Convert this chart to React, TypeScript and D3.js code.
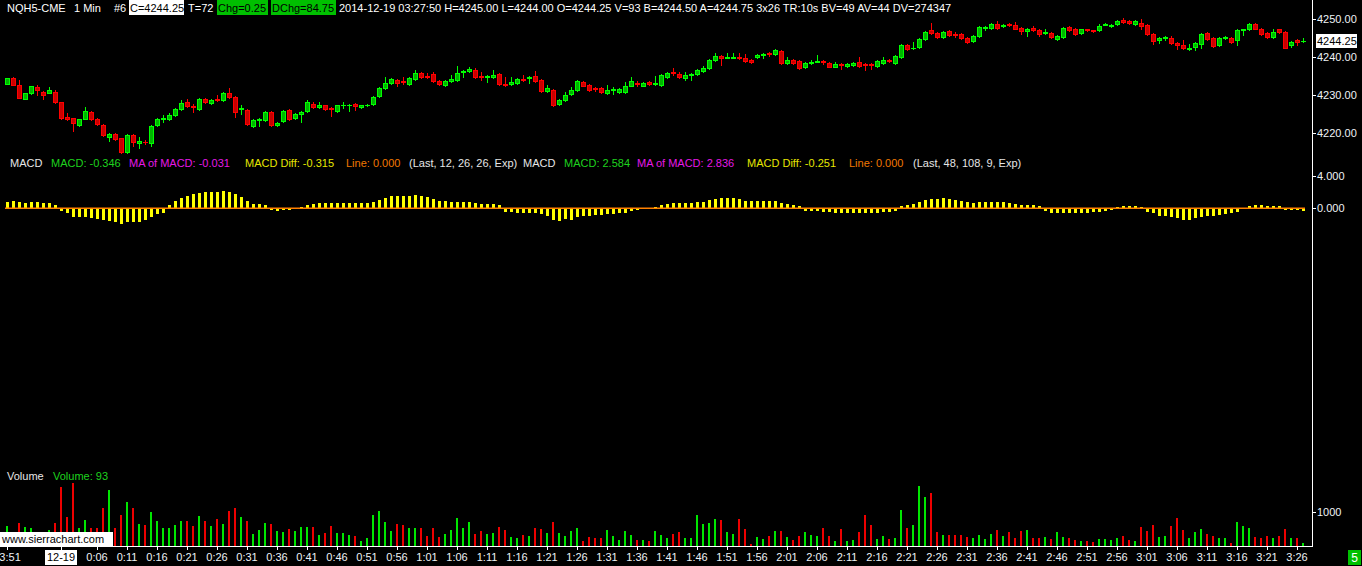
import * as React from 'react';
import * as d3 from 'd3';

// NQH5-CME, 1 minute bars from 2014-12-18 23:51 to 2014-12-19 03:27
const opens = [
  4233, 4234.5, 4232.75, 4229, 4230.5, 4232, 4230.75, 4230.5, 4230.75, 4228.25,
  4224.25, 4224, 4222, 4223.75, 4225.5, 4223.75, 4222, 4219, 4219.75, 4218.75,
  4215, 4219.5, 4217.25, 4217.75, 4217.25, 4222, 4223.75, 4223.75, 4224.75, 4226.25,
  4228.25, 4227, 4226.25, 4229, 4228, 4229, 4228.75, 4230.5, 4229.5, 4226.25,
  4226, 4221.75, 4223.5, 4223.5, 4225.5, 4222, 4223.25, 4226, 4224, 4225,
  4225.75, 4227.75, 4226.75, 4227.25, 4226.5, 4225.75, 4227.25, 4227.5, 4227.75, 4226.75,
  4227.25, 4227.75, 4229.75, 4231.75, 4233.25, 4234, 4233.75, 4233, 4234.25, 4235.75,
  4235, 4235.5, 4233.75, 4232.75, 4233.75, 4234, 4236, 4236.25, 4236.5, 4235,
  4234.75, 4234.75, 4235.5, 4233, 4233, 4233.25, 4234.25, 4234.5, 4235, 4234,
  4231, 4231.25, 4227.75, 4228.75, 4230.25, 4231.25, 4233.5, 4232.75, 4231.75, 4231.75,
  4230.5, 4231.25, 4230.75, 4230.75, 4232.5, 4233.25, 4232.5, 4233.5, 4233, 4232.75,
  4234.75, 4236, 4235.5, 4234.5, 4235.25, 4235.5, 4236.25, 4237, 4239.25, 4240.25,
  4239.75, 4239.75, 4240, 4239.75, 4239.25, 4240, 4240.5, 4241, 4240.75, 4241.5,
  4238.5, 4239.25, 4239, 4237.25, 4238.5, 4238.75, 4239, 4238.5, 4237.5, 4238.25,
  4237.75, 4238, 4238.75, 4238.25, 4238.25, 4237.75, 4238.5, 4239.25, 4238.5, 4240,
  4243.25, 4242.25, 4242.75, 4244.75, 4247, 4246.25, 4245.25, 4246.75, 4246, 4246,
  4245, 4244.25, 4245.5, 4247.75, 4247.75, 4248.75, 4248.25, 4248.75, 4248.5, 4247.75,
  4246.75, 4247.75, 4247, 4246.25, 4246.25, 4244.75, 4245.25, 4248, 4247.5, 4246.25,
  4247.25, 4247, 4247, 4248.5, 4248.25, 4248.75, 4249.75, 4249.5, 4248.75, 4249,
  4248.5, 4246, 4244.5, 4245, 4245, 4243.75, 4243.25, 4242, 4242.75, 4243.5,
  4246.25, 4245, 4243.25, 4245, 4245, 4244.5, 4247, 4247.25, 4248.75, 4247.5,
  4246.25, 4245.25, 4247.25, 4246.5, 4243.25, 4244.5, 4244.25
];

const highs = [
  4234.5, 4234.75, 4234, 4230.5, 4232.5, 4232.75, 4231, 4232, 4231.25, 4228.25,
  4225.25, 4224, 4223.75, 4226.75, 4225.75, 4224, 4222.25, 4220, 4220, 4218.75,
  4219.75, 4219.75, 4219, 4218.25, 4222, 4224, 4224.75, 4225.25, 4226.5, 4228.75,
  4229, 4227.75, 4229.25, 4229.25, 4229, 4230, 4230.75, 4231.75, 4229.75, 4227.25,
  4226.25, 4223.75, 4224, 4225.75, 4225.75, 4223, 4226, 4226.25, 4225.25, 4225.75,
  4228.75, 4228.25, 4228.25, 4227.5, 4226.75, 4227.5, 4228.25, 4227.75, 4228, 4227.5,
  4227.75, 4229.75, 4232, 4234.75, 4234.5, 4234.25, 4234.75, 4234.75, 4236.5, 4236,
  4235.75, 4236, 4234, 4234, 4235.25, 4237.75, 4236.5, 4237.25, 4237, 4236,
  4235.25, 4236.5, 4235.75, 4234.75, 4234.75, 4234.5, 4235.25, 4235, 4236.25, 4234.25,
  4232.75, 4231.5, 4229, 4230.75, 4232, 4234, 4233.75, 4233, 4232, 4232,
  4232.75, 4232, 4231.75, 4233.5, 4234.75, 4233.75, 4233.5, 4233.75, 4235, 4235.5,
  4236, 4237, 4236, 4236, 4235.75, 4236.75, 4237.75, 4239.5, 4241, 4240.5,
  4241, 4241, 4241, 4240.75, 4239.5, 4240.75, 4241, 4241.25, 4242, 4241.75,
  4240, 4239.5, 4239.25, 4238.75, 4239.25, 4240.5, 4239.25, 4238.75, 4238.75, 4238.5,
  4238.5, 4238.75, 4240, 4238.5, 4238.5, 4239.25, 4240, 4239.5, 4240.5, 4243.5,
  4243.5, 4244, 4245, 4246.75, 4249, 4246.5, 4246.75, 4247, 4246.5, 4246.25,
  4245.25, 4245.75, 4248.25, 4248.25, 4249, 4249.5, 4248.75, 4249, 4249.25, 4248,
  4247.75, 4248.25, 4247.25, 4247.5, 4246.5, 4245.75, 4248, 4248.25, 4247.75, 4247.5,
  4247.25, 4247, 4248.75, 4249, 4248.75, 4249.75, 4250.25, 4249.75, 4249.75, 4250,
  4248.75, 4246.25, 4245.25, 4245.5, 4245.5, 4244, 4244.5, 4243.5, 4244, 4246.25,
  4246.5, 4245.25, 4245.25, 4245.5, 4245.25, 4247.25, 4247.5, 4249, 4249, 4247.75,
  4246.5, 4247.5, 4247.5, 4246.75, 4244.25, 4244.75, 4245
];

const lows = [
  4233, 4232.75, 4229.25, 4229, 4230.25, 4230, 4229, 4230.5, 4228, 4223.75,
  4223.5, 4220.5, 4221.75, 4223.75, 4223.5, 4222, 4219.25, 4218, 4218.25, 4214.75,
  4214.75, 4216.5, 4216, 4217, 4216.5, 4221.75, 4223, 4223.5, 4224.5, 4226,
  4226.75, 4225.5, 4226, 4228, 4227.75, 4228.5, 4228.5, 4229.25, 4224.25, 4225,
  4222, 4221.5, 4221.75, 4223.25, 4221.75, 4221.75, 4223, 4223.5, 4223.75, 4223,
  4225.5, 4226.5, 4226.5, 4226, 4224.5, 4225.5, 4226.5, 4225.75, 4226, 4226.5,
  4227, 4227.5, 4229.5, 4231.5, 4233, 4232.25, 4233, 4232.75, 4234, 4234.5,
  4234.5, 4233.5, 4232.75, 4232.5, 4233.5, 4233.75, 4234.75, 4236, 4234.5, 4234,
  4233.5, 4234.5, 4232.75, 4232.5, 4232.75, 4233, 4233.75, 4233.25, 4233.5, 4230.75,
  4230.75, 4227, 4227.5, 4228.5, 4230, 4231, 4232.25, 4231, 4231, 4230.5,
  4230.25, 4230.25, 4230.5, 4230.5, 4232.25, 4232.5, 4232.25, 4232.75, 4232.75, 4232.5,
  4234.5, 4235.25, 4234.5, 4234, 4234, 4235.25, 4236, 4236.75, 4239, 4238,
  4239.75, 4239.75, 4239.5, 4238.75, 4238.5, 4239.75, 4239.75, 4240.25, 4240.5, 4238.25,
  4238.25, 4238.25, 4236.75, 4237, 4238.25, 4238.75, 4238.25, 4237.25, 4237.25, 4236.75,
  4237.5, 4237.75, 4237.5, 4236.5, 4236.75, 4237.5, 4238.25, 4238.75, 4238.25, 4239.75,
  4241.75, 4242, 4242.5, 4244.5, 4246, 4245, 4245, 4245.5, 4245.25, 4244.75,
  4243.75, 4244, 4245.25, 4247, 4247.5, 4247.5, 4248, 4248.25, 4247.25, 4246,
  4245.5, 4246.75, 4245.5, 4246, 4245, 4244.5, 4245, 4246.75, 4245.75, 4246,
  4246.75, 4246.5, 4246.75, 4248.5, 4248, 4248.5, 4249, 4248.75, 4248.5, 4247.5,
  4245.75, 4243.5, 4243.75, 4244.5, 4243.5, 4242, 4242, 4241.75, 4241.75, 4242.5,
  4244.5, 4242.75, 4243, 4244.75, 4243.75, 4243.25, 4245.75, 4247, 4247.25, 4245.75,
  4245, 4245, 4246.25, 4242.25, 4242.75, 4243.25, 4244
];

const closes = [
  4234.5, 4232.75, 4229.25, 4230.5, 4232.25, 4231.25, 4230, 4231.25, 4228.25, 4224,
  4223.75, 4222.5, 4223.75, 4225.75, 4223.75, 4222.25, 4219.5, 4219.75, 4218.5, 4215,
  4219.5, 4217.5, 4218, 4217.5, 4221.75, 4223.75, 4224, 4224.75, 4226.25, 4228,
  4227, 4226.75, 4229, 4228.25, 4228.75, 4228.75, 4230.5, 4229.5, 4225.5, 4226.5,
  4222.25, 4223.5, 4223.75, 4225.5, 4222, 4222.75, 4225.75, 4223.75, 4225, 4225.5,
  4228.25, 4226.75, 4227.25, 4226.25, 4226.25, 4227.25, 4227.5, 4227.5, 4227, 4227.25,
  4227.5, 4229.5, 4231.75, 4233.25, 4234.25, 4233.25, 4233.5, 4234.5, 4235.75, 4234.75,
  4234.75, 4233.75, 4233, 4233.75, 4234.25, 4235.75, 4236.25, 4236.75, 4234.75, 4234.75,
  4235, 4235.25, 4233, 4232.75, 4233.5, 4234.25, 4234, 4234.75, 4233.75, 4231,
  4231.75, 4227.5, 4228.75, 4230, 4231.25, 4233.75, 4232.5, 4231.25, 4231.5, 4230.75,
  4231.25, 4231.5, 4231.5, 4232.5, 4233.75, 4233, 4233.25, 4233, 4233.25, 4235.25,
  4235.75, 4235.75, 4234.75, 4235.25, 4235.5, 4236.5, 4237, 4239.25, 4240.25, 4239.75,
  4240, 4240, 4239.75, 4239, 4238.75, 4240.5, 4240.75, 4240.75, 4241.75, 4238.5,
  4239.25, 4238.5, 4237, 4238.5, 4238.75, 4239, 4238.75, 4237.5, 4238.25, 4238,
  4238.25, 4238.5, 4237.75, 4238, 4238, 4239, 4239.25, 4239, 4240.25, 4243.25,
  4242, 4242.5, 4244.75, 4246.5, 4246.25, 4245.25, 4246.5, 4245.75, 4245.75, 4245,
  4244, 4245.5, 4248, 4248, 4248.75, 4247.75, 4248.5, 4248.5, 4247.5, 4246.75,
  4247.5, 4247, 4246, 4246.5, 4245.25, 4245.5, 4247.75, 4247, 4246, 4247.25,
  4247, 4246.75, 4248.25, 4248.75, 4248.5, 4249.5, 4249.25, 4249, 4249.5, 4248.25,
  4246, 4244.25, 4245, 4245.25, 4243.75, 4243.25, 4242.25, 4242.5, 4243.75, 4246,
  4244.75, 4243, 4245, 4245.25, 4244, 4247, 4247.25, 4248.75, 4247.5, 4246,
  4245.25, 4246.5, 4246.5, 4242.5, 4244, 4244, 4244.25
];

const volumes = [
  583, 250, 680, 564, 515, 250, 300, 467, 680, 1730,
  855, 1827, 535, 758, 535, 515, 1098, 1633, 535, 904,
  1293, 1118, 642, 612, 1001, 739, 535, 535, 612, 739,
  739, 583, 885, 739, 583, 787, 642, 1030, 1118, 836,
  739, 350, 467, 661, 642, 437, 418, 496, 437, 564,
  544, 564, 321, 369, 583, 389, 389, 321, 292, 146,
  243, 904, 1021, 690, 447, 642, 612, 535, 515, 515,
  301, 515, 272, 340, 467, 826, 535, 710, 350, 437,
  350, 389, 564, 467, 272, 243, 321, 292, 535, 496,
  389, 710, 389, 292, 437, 535, 146, 272, 243, 243,
  467, 292, 175, 437, 321, 175, 175, 146, 437, 321,
  243, 350, 418, 243, 243, 904, 642, 680, 787, 758,
  418, 350, 787, 496, 58, 272, 204, 301, 437, 437,
  272, 175, 301, 398, 321, 292, 535, 292, 146, 496,
  146, 175, 418, 904, 612, 204, 292, 204, 243, 1050,
  535, 612, 1750, 1439, 1555, 418, 321, 321, 321, 321,
  272, 243, 321, 204, 350, 467, 292, 418, 243, 437,
  467, 243, 243, 272, 204, 418, 272, 243, 175, 146,
  146, 126, 204, 204, 175, 243, 292, 175, 146, 564,
  437, 612, 272, 292, 583, 826, 467, 243, 418, 496,
  350, 292, 243, 243, 97, 710, 583, 535, 272, 243,
  301, 243, 301, 496, 243, 243, 93
];

// MACD Diff histogram (48, 108, 9)
const macdDiff = [
  0.82, 0.9, 0.74, 0.61, 0.78, 0.78, 0.7, 0.7, 0.41, -0.29,
  -0.61, -1.02, -1.02, -1.02, -1.15, -1.31, -1.43, -1.55, -1.64, -1.92,
  -1.72, -1.64, -1.64, -1.43, -1.02, -0.7, -0.53, 0.35, 0.9, 1.23,
  1.55, 1.72, 1.92, 1.96, 2.04, 2.04, 2.13, 2.04, 1.72, 1.43,
  0.9, 0.53, 0.49, 0.41, -0.2, -0.29, -0.2, -0.2, -0.12, 0.2,
  0.41, 0.53, 0.61, 0.61, 0.61, 0.7, 0.7, 0.7, 0.7, 0.7,
  0.7, 0.82, 1.02, 1.23, 1.55, 1.55, 1.55, 1.55, 1.64, 1.55,
  1.43, 1.15, 0.94, 0.9, 0.82, 0.82, 0.82, 0.74, 0.7, 0.53,
  0.53, 0.53, 0.35, -0.41, -0.49, -0.53, -0.53, -0.53, -0.53, -0.7,
  -0.9, -1.43, -1.51, -1.35, -1.43, -1.02, -0.9, -0.9, -0.82, -0.82,
  -0.74, -0.74, -0.61, -0.61, -0.33, -0.2, -0.05, 0.02, 0.12, 0.41,
  0.53, 0.7, 0.7, 0.7, 0.7, 0.74, 0.82, 1.02, 1.15, 1.31,
  1.31, 1.23, 1.1, 0.94, 0.94, 0.94, 0.94, 0.94, 0.94, 0.7,
  0.49, 0.41, 0.25, -0.29, -0.33, -0.33, -0.41, -0.41, -0.53, -0.61,
  -0.61, -0.61, -0.61, -0.61, -0.61, -0.53, -0.49, -0.41, -0.29, 0.29,
  0.41, 0.53, 0.74, 1.02, 1.15, 1.15, 1.23, 1.1, 1.02, 0.94,
  0.74, 0.7, 0.74, 0.74, 0.74, 0.74, 0.74, 0.7, 0.53, 0.41,
  0.41, 0.41, 0.29, -0.29, -0.61, -0.61, -0.53, -0.53, -0.53, -0.53,
  -0.53, -0.49, -0.41, -0.33, -0.15, 0.2, 0.29, 0.29, 0.29, 0.2,
  -0.41, -0.61, -0.9, -0.9, -1.02, -1.23, -1.43, -1.43, -1.23, -1.02,
  -0.9, -0.9, -0.82, -0.74, -0.61, -0.41, -0.12, 0.29, 0.41, 0.41,
  0.29, 0.29, 0.29, -0.2, -0.2, -0.25, -0.29
];

const priceTicks = [4220, 4230, 4240, 4250];
const macdTicks = [0, 4];
const volumeTicks = [1000];
const lastPrice = 4244.25;

const timeTickLabels = [
  '23:51', '12-19', '0:06', '0:11', '0:16', '0:21', '0:26', '0:31', '0:36', '0:41',
  '0:46', '0:51', '0:56', '1:01', '1:06', '1:11', '1:16', '1:21', '1:26', '1:31',
  '1:36', '1:41', '1:46', '1:51', '1:56', '2:01', '2:06', '2:11', '2:16', '2:21',
  '2:26', '2:31', '2:36', '2:41', '2:46', '2:51', '2:56', '3:01', '3:06', '3:11',
  '3:16', '3:21', '3:26'
];

const W = 1362;
const H = 566;
const AXIS_X = 1312;
const FONT = "'Liberation Sans', Arial, sans-serif";

const UP = '#00ff00', UP_FILL = '#00b400';
const DN = '#ff0000', DN_FILL = '#c80000';

const firstBar = new Date(2014, 11, 18, 23, 51);
const barTimes = d3.timeMinute.range(firstBar, d3.timeMinute.offset(firstBar, closes.length));

function labelTime(label: string) {
  if (label === '12-19') return new Date(2014, 11, 19, 0, 0);
  const [h, m] = label.split(':').map(Number);
  return new Date(2014, 11, h >= 12 ? 18 : 19, h, m);
}

const header = [
  { t: 'NQH5-CME', x: 7 },
  { t: '1 Min', x: 74 },
  { t: '#6', x: 114 },
  { t: 'C=4244.25', x: 130, bg: '#ffffff', bx: 129, bw: 55 },
  { t: 'T=72', x: 188 },
  { t: 'Chg=0.25', x: 218, bg: '#00c000', bx: 217, bw: 51 },
  { t: 'DChg=84.75', x: 272, bg: '#00c000', bx: 271, bw: 65 },
  { t: '2014-12-19 03:27:50 H=4245.00 L=4244.00 O=4244.25 V=93 B=4244.50 A=4244.75 3x26 TR:10s BV=49 AV=44 DV=274347', x: 339 },
];

const macdLegend = [
  { t: 'MACD', x: 10, c: '#e6e6e6' },
  { t: 'MACD: -0.346', x: 51, c: '#1ed21e' },
  { t: 'MA of MACD: -0.031', x: 129, c: '#e619e6' },
  { t: 'MACD Diff: -0.315', x: 245, c: '#e6e600' },
  { t: 'Line: 0.000', x: 346, c: '#f07800' },
  { t: '(Last, 12, 26, 26, Exp)', x: 409, c: '#e6e6e6' },
  { t: 'MACD', x: 523, c: '#e6e6e6' },
  { t: 'MACD: 2.584', x: 564, c: '#1ed21e' },
  { t: 'MA of MACD: 2.836', x: 637, c: '#e619e6' },
  { t: 'MACD Diff: -0.251', x: 747, c: '#e6e600' },
  { t: 'Line: 0.000', x: 849, c: '#f07800' },
  { t: '(Last, 48, 108, 9, Exp)', x: 913, c: '#e6e6e6' },
];

function Candles({ x, y }: { x: (i: number) => number; y: d3.ScaleLinear<number, number> }) {
  return (
    <g shapeRendering="crispEdges">
      {closes.map((c, i) => {
        const o = opens[i];
        const up = c >= o;
        const cx = x(i);
        const yt = Math.round(y(Math.max(o, c)));
        const yb = Math.round(y(Math.min(o, c)));
        const yh = Math.round(y(highs[i]));
        const yl = Math.round(y(lows[i]));
        const stroke = up ? UP : DN;
        return (
          <g key={i}>
            <line x1={cx + 0.5} x2={cx + 0.5} y1={yh} y2={yl + 1} stroke={stroke} />
            {yb - yt < 1 ? (
              <line x1={cx - 2} x2={cx + 3} y1={yt + 0.5} y2={yt + 0.5} stroke={stroke} />
            ) : (
              <rect x={cx - 1.5} y={yt + 0.5} width={4} height={yb - yt}
                fill={up ? UP_FILL : DN_FILL} stroke={stroke} />
            )}
          </g>
        );
      })}
    </g>
  );
}

export default function App() {
  React.useEffect(() => {
    document.body.style.margin = '0';
    document.body.style.background = '#000';
  }, []);

  const xt = d3.scaleTime()
    .domain([barTimes[0], barTimes[barTimes.length - 1]])
    .range([7, 1303]);
  const x = (i: number) => Math.round(xt(barTimes[i]));

  const yPrice = d3.scaleLinear().domain([4220, 4250]).range([133, 19]);
  const yMacd = d3.scaleLinear().domain([0, 4]).range([208.3, 175.7]);
  const yVol = d3.scaleLinear().domain([0, 1000]).range([546, 511.7]);

  const fmtPrice = d3.format('.2f');
  const fmtMacd = d3.format('.3f');
  const fmtVol = d3.format('d');
  const fmtTime = d3.timeFormat('%-H:%M');

  const axisLabel = (yv: number, text: string, key: string) => (
    <g key={key}>
      <line x1={AXIS_X} x2={AXIS_X + 4} y1={Math.round(yv) + 0.5} y2={Math.round(yv) + 0.5} stroke="#fff" />
      <text x={AXIS_X + 5} y={yv} dy="0.35em" fill="#eef2f6" fontSize={11}>{text}</text>
    </g>
  );

  const z = yMacd(0);

  return (
    <div style={{ position: 'fixed', left: 0, top: 0, width: W, height: H, background: '#000' }}>
      <svg width={W} height={H} fontFamily={FONT} style={{ display: 'block' }}>
        <rect width={W} height={H} fill="#000" />

        {/* header */}
        {header.map((h, i) => (
          <g key={i}>
            {h.bg && <rect x={h.bx} y={0} width={h.bw} height={15} fill={h.bg} />}
            <text x={h.x} y={12} fontSize={11} fill={h.bg ? '#000' : '#ffffff'}>{h.t}</text>
          </g>
        ))}

        {/* price candles */}
        <Candles x={x} y={yPrice} />

        {/* MACD legend */}
        {macdLegend.map((m, i) => (
          <text key={i} x={m.x} y={167} fontSize={11} fill={m.c}>{m.t}</text>
        ))}

        {/* MACD diff histogram */}
        <g shapeRendering="crispEdges">
          {macdDiff.map((v, i) => {
            const y1 = yMacd(v);
            return (
              <rect key={i} x={x(i) - 1} y={Math.min(y1, z)} width={3}
                height={Math.max(1, Math.abs(y1 - z))} fill="#ffff00" />
            );
          })}
        </g>
        <line x1={x(0) - 2} x2={x(closes.length - 1) + 2} y1={z} y2={z} stroke="#ff8000" strokeWidth={1.5} />

        {/* volume */}
        <text x={7} y={480} fontSize={11} fill="#e6e6e6">Volume</text>
        <text x={53} y={480} fontSize={11} fill="#1ed21e">Volume: 93</text>
        <g shapeRendering="crispEdges">
          {volumes.map((v, i) => (
            <rect key={i} x={x(i) - 1} y={yVol(v)} width={2} height={yVol(0) - yVol(v)}
              fill={closes[i] >= opens[i] ? '#00e600' : '#ee0000'} />
          ))}
        </g>
        <rect x={0} y={532} width={113} height={14} fill="#ffffff" />
        <text x={2} y={543} fontSize={11} fill="#000">www.sierrachart.com</text>

        {/* axes */}
        <g shapeRendering="crispEdges">
          <line x1={AXIS_X + 0.5} x2={AXIS_X + 0.5} y1={0} y2={547} stroke="#fff" />
          <line x1={0} x2={AXIS_X + 1} y1={546.5} y2={546.5} stroke="#fff" />
        </g>
        {priceTicks.map(p => axisLabel(yPrice(p), fmtPrice(p), 'p' + p))}
        {macdTicks.map(m => axisLabel(yMacd(m), fmtMacd(m), 'm' + m))}
        {volumeTicks.map(v => axisLabel(yVol(v), fmtVol(v), 'v' + v))}

        {/* last price marker */}
        <rect x={AXIS_X + 4} y={Math.round(yPrice(lastPrice)) - 7} width={41} height={14} fill="#ffffff" />
        <text x={AXIS_X + 5} y={yPrice(lastPrice)} dy="0.35em" fontSize={11} fill="#000">{fmtPrice(lastPrice)}</text>

        {/* time axis */}
        {timeTickLabels.map((lbl, i) => {
          const t = labelTime(lbl);
          const cx = Math.round(xt(t));
          const isDate = lbl === '12-19';
          return (
            <g key={i}>
              <line x1={cx + 0.5} x2={cx + 0.5} y1={547} y2={550} stroke="#fff" shapeRendering="crispEdges" />
              {isDate && <rect x={cx - 16} y={550} width={32} height={15} fill="#ffffff" />}
              <text x={cx} y={561} fontSize={11} textAnchor="middle" fill={isDate ? '#000' : '#eef2f6'}>
                {isDate ? lbl : fmtTime(t)}
              </text>
            </g>
          );
        })}

        {/* bar count box */}
        <rect x={1348} y={550} width={13} height={15} fill="#00c000" />
        <text x={1354.5} y={562} fontSize={12} textAnchor="middle" fill="#ffffff">5</text>
      </svg>
    </div>
  );
}
